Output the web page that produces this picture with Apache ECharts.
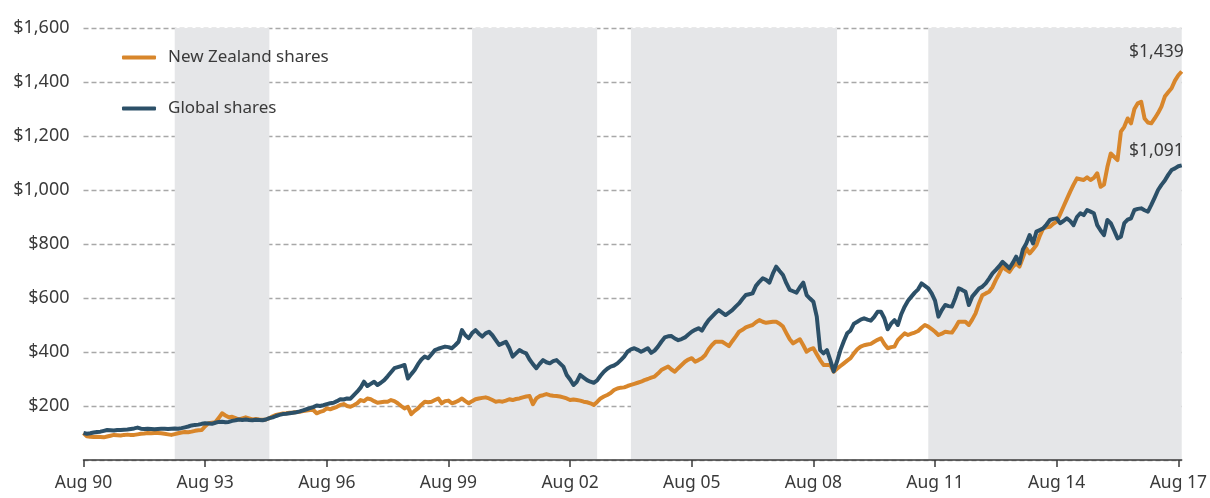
<!DOCTYPE html>
<html>
<head>
<meta charset="utf-8">
<script src="https://cdn.jsdelivr.net/npm/echarts@6/dist/echarts.min.js"></script>
<style>
html,body{margin:0;padding:0;background:#fff;}
#c{width:1210px;height:498px;}
</style>
</head>
<body>
<div id="c"></div>
<script>
// Monthly categories Aug 1990 .. Sep 2017
const monthNames = ['Jan','Feb','Mar','Apr','May','Jun','Jul','Aug','Sep','Oct','Nov','Dec'];
const categories = [];
for (let i = 0; i < 326; i++) {
  const m = (7 + i) % 12;
  const y = 1990 + Math.floor((7 + i) / 12);
  categories.push(monthNames[m] + ' ' + String(y).slice(2));
}

// New Zealand shares (value of $100 invested Aug 1990)
const nzShares = [
  100, 88, 86, 85, 86, 85, 84, 87, 90, 93, 92, 91,
  93, 94, 93, 93, 95, 97, 98, 100, 99, 100, 100, 99,
  97, 95, 93, 96, 99, 102, 104, 103, 105, 108, 110, 111,
  125, 136, 138, 140, 155, 173, 165, 158, 160, 155, 150, 154,
  158, 154, 150, 152, 150, 149, 150, 155, 162, 167, 170, 172,
  173, 175, 176, 178, 179, 181, 183, 185, 185, 173, 178, 182,
  191, 188, 192, 197, 204, 207, 200, 197, 203, 210, 222, 218,
  228, 225, 218, 212, 214, 216, 216, 222, 218, 210, 200, 191,
  197, 170, 182, 191, 205, 216, 214, 216, 222, 228, 210, 218,
  220, 210, 214, 220, 228, 218, 210, 218, 225, 228, 230, 232,
  228, 222, 216, 218, 216, 220, 225, 222, 226, 228, 232, 235,
  237, 207, 228, 237, 240, 244, 240, 238, 237, 235, 232, 228,
  222, 224, 222, 220, 216, 214, 210, 204, 215, 228, 235, 241,
  248, 259, 265, 268, 269, 274, 278, 282, 286, 290, 296, 300,
  305, 309, 320, 333, 340, 346, 335, 327, 340, 352, 364, 372,
  377, 364, 370, 377, 389, 410, 426, 438, 438, 438, 430, 422,
  440, 457, 475, 482, 491, 496, 500, 510, 518, 512, 508, 510,
  512, 512, 505, 494, 470, 447, 432, 440, 447, 425, 401, 410,
  414, 392, 370, 352, 352, 352, 327, 338, 348, 358, 368, 377,
  395, 410, 420, 425, 428, 430, 438, 445, 451, 430, 414, 418,
  420, 444, 457, 469, 463, 468, 472, 478, 490, 500, 494, 485,
  475, 463, 468, 475, 473, 472, 490, 512, 512, 512, 500, 520,
  543, 580, 610, 617, 623, 640, 667, 690, 716, 705, 697, 715,
  728, 716, 750, 784, 765, 780, 796, 830, 858, 862, 864, 875,
  883, 910, 938, 966, 994, 1020, 1043, 1040, 1037, 1047, 1037, 1045,
  1062, 1012, 1020, 1085, 1135, 1123, 1111, 1216, 1234, 1265, 1247, 1300,
  1321, 1327, 1265, 1250, 1247, 1265, 1285, 1309, 1346, 1362, 1377, 1405,
  1425, 1439
];

// Global shares
const globalShares = [
  100, 97, 99, 102, 104, 105, 108, 111, 110, 109, 111, 111,
  112, 113, 115, 117, 120, 116, 115, 116, 115, 114, 115, 116,
  116, 115, 116, 117, 116, 118, 121, 124, 128, 130, 131, 134,
  136, 135, 134, 138, 141, 142, 140, 141, 145, 147, 150, 148,
  150, 148, 147, 149, 148, 147, 150, 155, 158, 163, 167, 170,
  171, 173, 175, 177, 180, 184, 188, 192, 196, 202, 200, 203,
  207, 210, 212, 218, 225, 224, 228, 227, 240, 253, 268, 290,
  274, 282, 290, 278, 286, 296, 310, 325, 340, 344, 348, 352,
  302, 318, 333, 355, 372, 383, 377, 392, 407, 412, 416, 420,
  418, 414, 425, 438, 481, 462, 451, 470, 481, 468, 457, 469,
  475, 462, 444, 426, 432, 438, 415, 383, 395, 407, 400, 395,
  372, 355, 340, 356, 370, 362, 358, 366, 370, 358, 346, 315,
  298, 278, 290, 315, 305, 296, 290, 286, 295, 312, 327, 338,
  346, 350, 358, 370, 383, 401, 410, 414, 408, 401, 407, 414,
  397, 405, 420, 438, 454, 458, 459, 450, 444, 448, 454, 465,
  475, 482, 488, 479, 500, 518, 531, 544, 555, 546, 537, 546,
  555, 568, 580, 596, 611, 614, 617, 645, 660, 673, 667, 657,
  690, 716, 700, 685, 655, 630, 625, 620, 640, 657, 611, 598,
  586, 531, 407, 395, 407, 370, 328, 365, 407, 440, 469, 480,
  505, 512, 520, 525, 520, 516, 530, 549, 549, 525, 484, 505,
  518, 500, 540, 568, 590, 605, 620, 632, 654, 645, 636, 617,
  590, 531, 555, 574, 570, 568, 600, 636, 630, 623, 574, 605,
  620, 635, 642, 654, 672, 691, 704, 718, 734, 722, 710, 730,
  753, 728, 780, 802, 833, 802, 846, 852, 858, 872, 889, 893,
  895, 877, 885, 895, 885, 870, 900, 914, 907, 926, 920, 914,
  870, 850, 833, 889, 877, 850, 821, 827, 877, 890, 895, 926,
  930, 932, 925, 920, 945, 972, 1000, 1019, 1035, 1056, 1074, 1080,
  1088, 1091
];

// Shaded periods (start/end month indices)
const shadedStart = [27, 115, 162, 250];
const shadedEnd = [55, 152, 223, 325];

const seriesNames = ['New Zealand shares', 'Global shares'];
const colors = ['#D8862B', '#2C5068'];
const endLabelOffsetY = [-10, -5];

const FONT = '"Noto Sans", sans-serif';
const TXT = '#3a3a3a';

function endLabel(idx) {
  return {
    show: true, align: 'right', verticalAlign: 'bottom', distance: 0,
    offset: [2, endLabelOffsetY[idx]],
    formatter: p => '$' + Number(p.value).toLocaleString('en-US'),
    color: TXT, fontFamily: FONT, fontSize: 17.5
  };
}

const chart = echarts.init(document.getElementById('c'), null, {renderer: 'canvas'});
chart.setOption({
  animation: false,
  backgroundColor: '#fff',
  grid: {left: 83.5, right: 27, top: 28, bottom: 38, containLabel: false},
  legend: {
    orient: 'vertical', left: 122, top: 49, itemGap: 34, padding: 0,
    itemWidth: 34, itemHeight: 4, icon: 'roundRect',
    data: seriesNames,
    textStyle: {color: TXT, fontFamily: FONT, fontSize: 17, padding: [0, 0, 0, 7]}
  },
  xAxis: {
    type: 'category', data: categories, boundaryGap: false,
    axisLine: {lineStyle: {color: '#3a3a3a', width: 1.5}},
    axisTick: {show: true, length: 7, interval: (i) => i % 36 === 0, lineStyle: {color: '#3a3a3a', width: 1.5}},
    axisLabel: {interval: (i) => i % 36 === 0, color: TXT, fontFamily: FONT, fontSize: 17.5, margin: 14},
    splitLine: {show: false},
    z: 5
  },
  yAxis: {
    type: 'value', min: 0, max: 1600, interval: 200,
    axisLine: {show: false}, axisTick: {show: false},
    axisLabel: {
      color: TXT, fontFamily: FONT, fontSize: 18, margin: 14,
      formatter: v => v === 0 ? '' : '$' + v.toLocaleString('en-US')
    },
    splitLine: {show: true, lineStyle: {color: '#a8a8a8', type: [5, 3], width: 1.3}}
  },
  series: [
    {
      name: seriesNames[0], type: 'line', data: nzShares,
      showSymbol: false, symbol: 'none', color: colors[0],
      lineStyle: {color: colors[0], width: 4, join: 'round'},
      endLabel: endLabel(0),
      z: 3,
      markArea: {
        silent: true,
        itemStyle: {color: '#E5E6E8'},
        data: shadedStart.map((s, k) => [{xAxis: s}, {xAxis: shadedEnd[k]}])
      }
    },
    {
      name: seriesNames[1], type: 'line', data: globalShares,
      showSymbol: false, symbol: 'none', color: colors[1],
      lineStyle: {color: colors[1], width: 4, join: 'round'},
      endLabel: endLabel(1),
      z: 4
    }
  ]
});
</script>
</body>
</html>
